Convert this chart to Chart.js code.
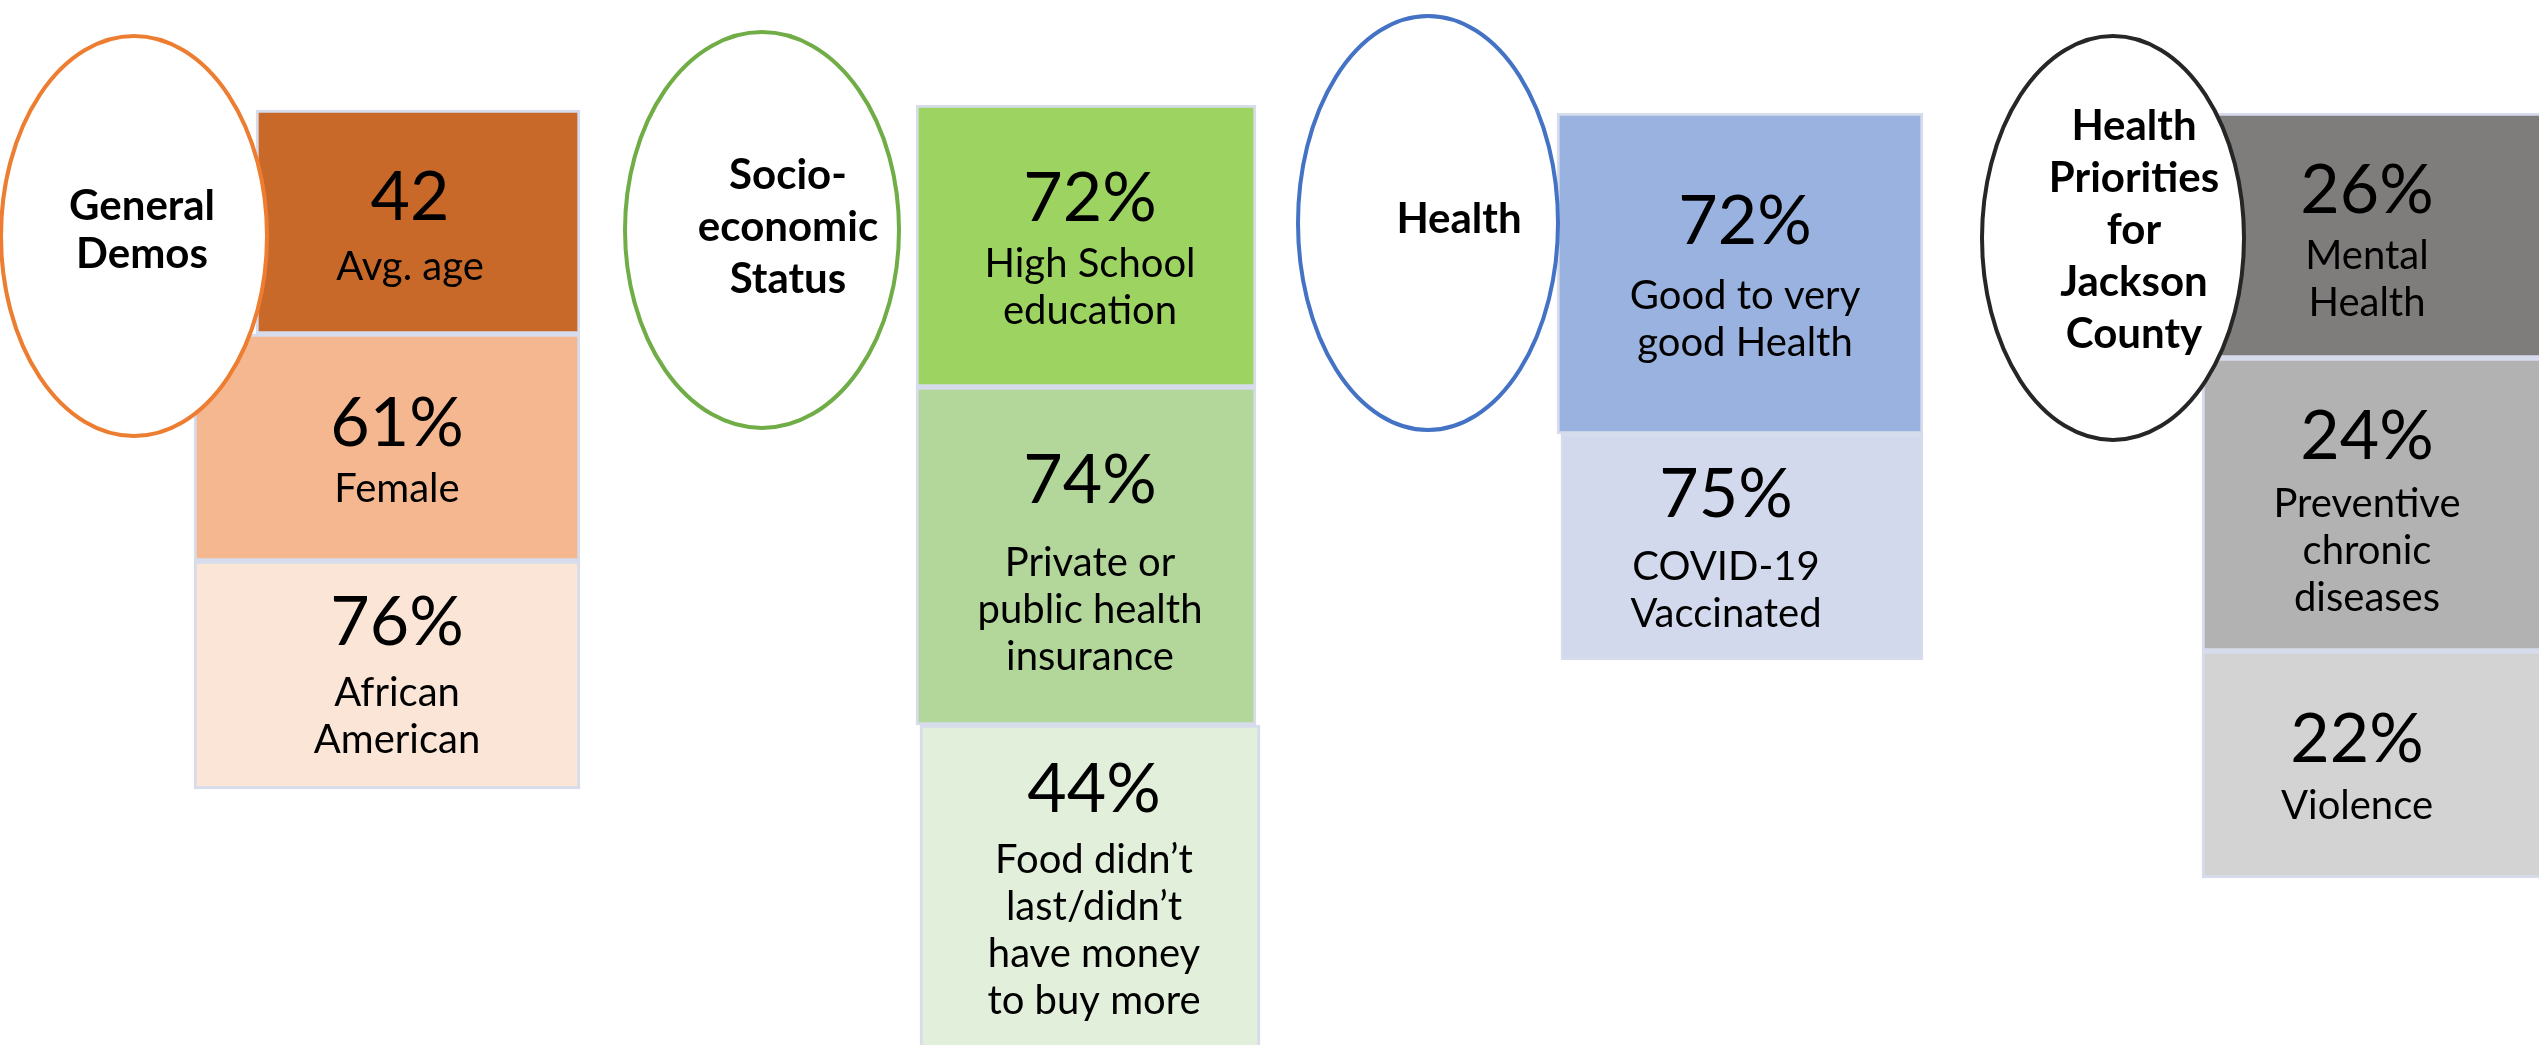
<!DOCTYPE html>
<html lang="en">
<head>
    <meta charset="UTF-8">
    <title>Jackson County - Survey Highlights</title>
    <script src="https://cdn.jsdelivr.net/npm/chart.js"></script>
    <style>
        html, body { margin: 0; padding: 0; background: #fff; overflow: hidden; }
        .board { width: 2539px; height: 1045px; position: relative; }
    </style>
</head>
<body>
    <div class="board">
        <canvas id="info-chart"></canvas>
    </div>

    <script>
        // Data
        const groupTitles = [
            ['General', 'Demos'],
            ['Socio-', 'economic', 'Status'],
            ['Health'],
            ['Health', 'Priorities', 'for', 'Jackson', 'County']
        ];

        const demoValues = [42, 61, 76];
        const demoUnits = ['', '%', '%'];
        const demoLabels = [['Avg. age'], ['Female'], ['African', 'American']];

        const sesValues = [72, 74, 44];
        const sesUnits = ['%', '%', '%'];
        const sesLabels = [['High School', 'education'], ['Private or', 'public health', 'insurance'], ['Food didn\u2019t', 'last/didn\u2019t', 'have money', 'to buy more']];

        const healthValues = [72, 75];
        const healthUnits = ['%', '%'];
        const healthLabels = [['Good to very', 'good Health'], ['COVID-19', 'Vaccinated']];

        const priorityValues = [26, 24, 22];
        const priorityUnits = ['%', '%', '%'];
        const priorityLabels = [['Mental', 'Health'], ['Preventive', 'chronic', 'diseases'], ['Violence']];

        // Layout of the board (page units), kept apart from the data
        const groupLayout = [
            {
                ellipse: { cx: 134, cy: 236, rx: 133, ry: 200, color: '#ED7D31' },
                titleX: 142, titleY: 206,
                boxes: [
                    { x0: 256, x1: 580, y0: 110, y1: 334, fill: '#C8692A', tx: 410, numY: 198, labY: 267 },
                    { x0: 194, x1: 580, y0: 334, y1: 561, fill: '#F4B78F', tx: 397, numY: 424, labY: 489 },
                    { x0: 194, x1: 580, y0: 561, y1: 789, fill: '#FAE5D7', tx: 397, numY: 623, labY: 693 }
                ]
            },
            {
                ellipse: { cx: 762, cy: 230, rx: 137, ry: 198, color: '#70AD47' },
                titleX: 788, titleY: 175,
                boxes: [
                    { x0: 916, x1: 1256, y0: 105, y1: 387, fill: '#9DD461', tx: 1090, numY: 199, labY: 264 },
                    { x0: 916, x1: 1256, y0: 387, y1: 725, fill: '#B3D69A', tx: 1090, numY: 481, labY: 563 },
                    { x0: 920, x1: 1260, y0: 725, y1: 1060, fill: '#E2EFDA', tx: 1094, numY: 790, labY: 860 }
                ]
            },
            {
                ellipse: { cx: 1428, cy: 223, rx: 130, ry: 207, color: '#4472C4' },
                titleX: 1459, titleY: 219,
                boxes: [
                    { x0: 1557, x1: 1923, y0: 113, y1: 434, fill: '#9AB2DF', tx: 1745, numY: 222, labY: 296 },
                    { x0: 1561, x1: 1923, y0: 434, y1: 660, fill: '#D3D9EC', tx: 1726, numY: 495, labY: 567 }
                ]
            },
            {
                ellipse: { cx: 2113, cy: 238, rx: 131, ry: 202, color: '#262626' },
                titleX: 2134, titleY: 126,
                boxes: [
                    { x0: 2207, x1: 2545, y0: 113, y1: 358, fill: '#7F7C7C', tx: 2367, numY: 191, labY: 256 },
                    { x0: 2202, x1: 2545, y0: 358, y1: 651, fill: '#B3B2B2', tx: 2367, numY: 437, labY: 504 },
                    { x0: 2202, x1: 2545, y0: 651, y1: 878, fill: '#D4D3D4', tx: 2357, numY: 740, labY: 806 }
                ]
            }
        ];

        const groupData = [
            { values: demoValues, units: demoUnits, labels: demoLabels },
            { values: sesValues, units: sesUnits, labels: sesLabels },
            { values: healthValues, units: healthUnits, labels: healthLabels },
            { values: priorityValues, units: priorityUnits, labels: priorityLabels }
        ];

        const FONT = 'Lato, "Open Sans", sans-serif';
        const BOARD_W = 2539, BOARD_H = 1045;

        // one floating bar dataset per box
        const datasets = [];
        groupLayout.forEach(g => {
            g.boxes.forEach(b => {
                datasets.push({
                    data: [{ x: (b.x0 + b.x1) / 2, y: [b.y0, b.y1] }],
                    backgroundColor: b.fill,
                    borderColor: '#D6DCEC',
                    borderWidth: 3,
                    borderSkipped: false,
                    barThickness: b.x1 - b.x0,
                    grouped: false
                });
            });
        });

        const boardPlugin = {
            id: 'boardText',
            afterDatasetsDraw(chart) {
                const ctx = chart.ctx;
                const xs = chart.scales.x, ys = chart.scales.y;
                const px = v => xs.getPixelForValue(v);
                const py = v => ys.getPixelForValue(v);
                ctx.save();
                ctx.textAlign = 'center';
                ctx.textBaseline = 'middle';
                ctx.fillStyle = '#000';

                groupLayout.forEach((g, gi) => {
                    const d = groupData[gi];
                    // numbers and labels inside the boxes
                    g.boxes.forEach((b, bi) => {
                        ctx.font = '400 68px ' + FONT;
                        ctx.fillText(d.values[bi] + d.units[bi], px(b.tx), py(b.numY));
                        ctx.font = '400 40px ' + FONT;
                        d.labels[bi].forEach((line, li) => {
                            ctx.fillText(line, px(b.tx), py(b.labY + li * 47));
                        });
                    });

                    // title ellipse on top
                    const e = g.ellipse;
                    ctx.beginPath();
                    ctx.ellipse(px(e.cx), py(e.cy), Math.abs(px(e.rx) - px(0)), Math.abs(py(e.ry) - py(0)), 0, 0, Math.PI * 2);
                    ctx.fillStyle = '#fff';
                    ctx.fill();
                    ctx.lineWidth = 4;
                    ctx.strokeStyle = e.color;
                    ctx.stroke();

                    ctx.fillStyle = '#000';
                    ctx.font = '700 42px ' + FONT;
                    const gap = groupTitles[gi].length > 2 ? 52 : 48;
                    groupTitles[gi].forEach((line, li) => {
                        ctx.fillText(line, px(g.titleX), py(g.titleY + li * gap));
                    });
                });
                ctx.restore();
            }
        };

        new Chart(document.getElementById('info-chart'), {
            type: 'bar',
            data: { datasets: datasets },
            options: {
                responsive: true,
                maintainAspectRatio: false,
                animation: false,
                events: [],
                layout: { padding: 0 },
                scales: {
                    x: { type: 'linear', min: 0, max: BOARD_W, offset: false, display: false },
                    y: { type: 'linear', min: 0, max: BOARD_H, reverse: true, display: false }
                },
                plugins: { legend: { display: false }, tooltip: { enabled: false } }
            },
            plugins: [boardPlugin]
        });
    </script>
</body>
</html>
